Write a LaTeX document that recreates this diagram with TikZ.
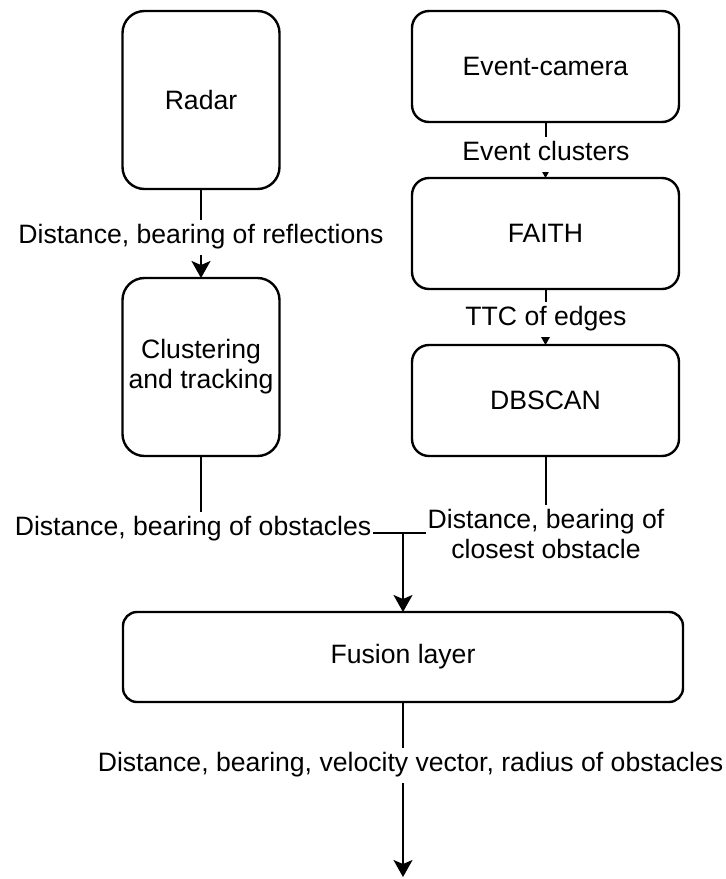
\documentclass[tikz,border=0pt]{standalone}
\usepackage{fontspec}
\setmainfont{Liberation Sans}
\usetikzlibrary{arrows.meta}
\begin{document}
\begin{tikzpicture}[x=1pt,y=-1pt,
  every node/.style={font=\fontsize{26.6}{30}\selectfont, outer sep=0pt},
  box/.style={draw, line width=2.4pt, rectangle, align=center},
  tall/.style={box, minimum width=157pt, minimum height=178pt, rounded corners=22pt},
  mid/.style={box, minimum width=267pt, minimum height=111pt, rounded corners=17pt},
  conn/.style={line width=2pt},
  tip/.style={-{Stealth[length=17pt,width=19pt,inset=4pt]}},
  lbl/.style={fill=white, inner xsep=1.5pt, inner ysep=2.5pt}]
\useasboundingbox (0,0) rectangle (726,879);
\fill[white] (0,0) rectangle (726,879);
% boxes
\node[tall] (radar) at (201,100) {Radar};
\node[tall] (clust) at (201,367) {Clustering\\and tracking};
\node[mid] (cam) at (545.5,66.5) {Event-camera};
\node[mid] (faith) at (545.5,233.5) {FAITH};
\node[mid] (dbscan) at (545.5,400.5) {DBSCAN};
\node[box, minimum width=560pt, minimum height=90pt, rounded corners=14pt] (fusion) at (403,657) {Fusion layer};
\coordinate (m) at (403,533);
\coordinate (out) at (403,877);
% connectors
\draw[conn,tip] (radar) -- (clust);
\draw[conn,tip] (cam) -- (faith);
\draw[conn,tip] (faith) -- (dbscan);
\draw[conn] (clust.south) |- (m);
\draw[conn] (dbscan.south) |- (m);
\draw[conn,tip] (m) -- (fusion.north);
\draw[conn,tip] (fusion) -- (out);
% labels
\node[lbl, anchor=base] (l1) at (201,243) {\strut Distance, bearing of reflections};
\node[lbl, anchor=base] (l2) at (546,160) {\strut Event clusters};
\node[lbl, anchor=base] (l3) at (546,325) {\strut TTC of edges};
\node[lbl, anchor=base] (l4) at (193,535) {\strut Distance, bearing of obstacles};
\node[lbl, align=center] (l5) at (546,537) {\strut Distance, bearing of\\\strut closest obstacle};
\node[lbl, anchor=base] (l6) at (410.5,771) {\strut Distance, bearing, velocity vector, radius of obstacles};
\end{tikzpicture}
\end{document}
